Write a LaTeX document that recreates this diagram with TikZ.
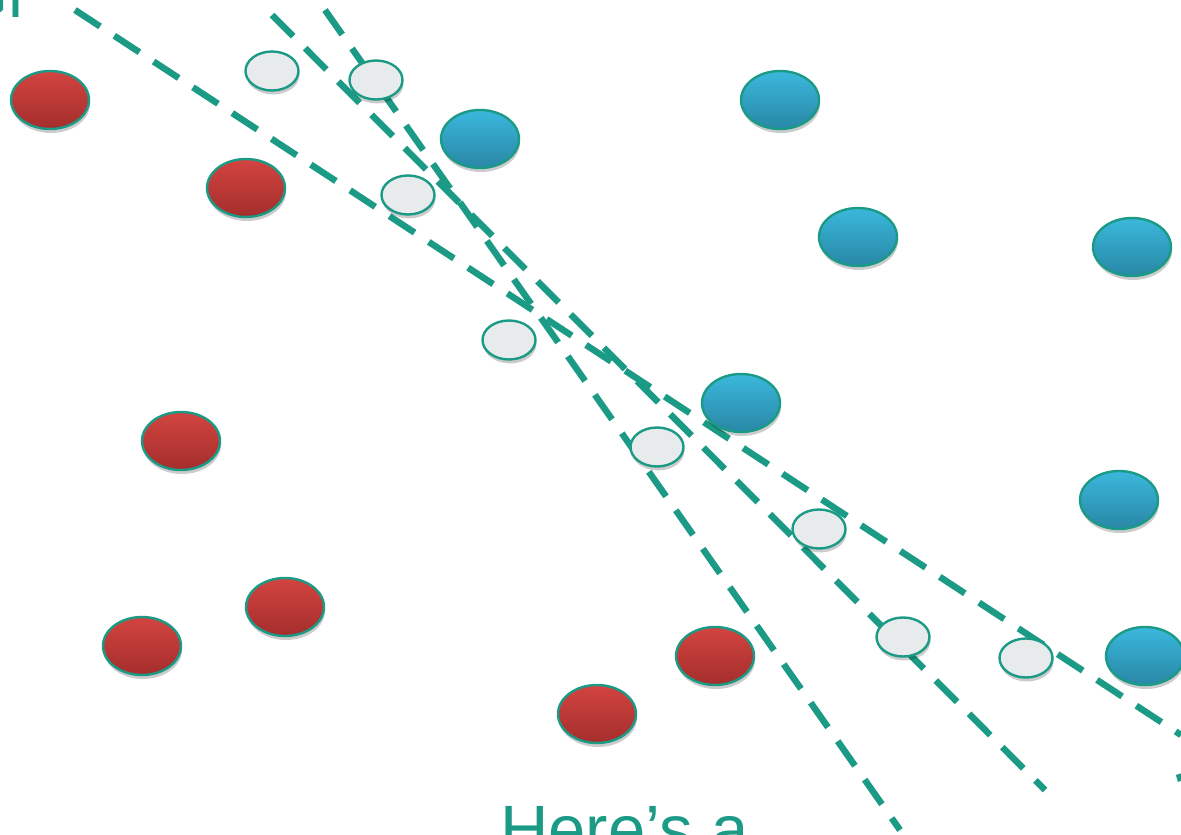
\documentclass[tikz,border=0pt]{standalone}
\usepackage{fontspec}
\setmainfont{Liberation Sans}
\usetikzlibrary{shadows,shapes.geometric}
\definecolor{teal1}{HTML}{1B9A86}
\definecolor{redtop}{HTML}{D24440}
\definecolor{redbot}{HTML}{A42E2C}
\definecolor{bluetop}{HTML}{3AB8DC}
\definecolor{bluebot}{HTML}{2987A6}
\definecolor{pale}{HTML}{E8EBEC}
\tikzset{
  pt/.style={ellipse, draw=teal1, line width=2.4pt, inner sep=0pt,
    drop shadow={shadow xshift=1pt, shadow yshift=-4pt, fill=black, opacity=0.2}},
  redpt/.style={pt, minimum width=78pt, minimum height=58pt, top color=redtop, bottom color=redbot},
  bluept/.style={pt, minimum width=78pt, minimum height=58pt, top color=bluetop, bottom color=bluebot},
  whitept/.style={pt, minimum width=53pt, minimum height=39pt, fill=pale},
  sep/.style={draw=teal1, line width=6.5pt, dash pattern=on 30pt off 17pt},
  lbl/.style={text=teal1, font=\fontsize{67}{70}\selectfont, inner sep=0pt}
}
\begin{document}
\begin{tikzpicture}[x=1pt,y=-1pt]
\useasboundingbox (0,0) rectangle (1181,835);
\clip (0,0) rectangle (1181,835);
% text fragments
\node[lbl, anchor=base east] (tl) at (24,17) {Gl};
\node[lbl, anchor=base west] (here) at (500,852) {Here’s a};
% line endpoints
\coordinate (a1) at (75,10);
\coordinate (a2) at (1181,735);
\coordinate (b1) at (272,15);
\coordinate (b2) at (1045,790);
\coordinate (c1) at (325,10);
\coordinate (c2) at (900,830);
\coordinate (d1) at (1179,774);
\coordinate (d2) at (1181,781);
\draw[sep] (a1) -- (a2);
\draw[sep] (b1) -- (b2);
\draw[sep] (c1) -- (c2);
\draw[draw=teal1, line width=6.5pt] (d1) -- (d2);
% red points
\node[redpt] (r1) at (50,100) {};
\node[redpt] (r2) at (246,188) {};
\node[redpt] (r3) at (181,441) {};
\node[redpt] (r4) at (285,607) {};
\node[redpt] (r5) at (142,646) {};
\node[redpt] (r6) at (597,714) {};
\node[redpt] (r7) at (715,656) {};
% blue points
\node[bluept] (b1n) at (480,139) {};
\node[bluept] (b2n) at (780,100) {};
\node[bluept] (b3n) at (858,237) {};
\node[bluept] (b4n) at (1132,247) {};
\node[bluept] (b5n) at (741,403) {};
\node[bluept] (b6n) at (1119,500) {};
\node[bluept] (b7n) at (1145,656) {};
% white points
\node[whitept] (w1) at (272,71) {};
\node[whitept] (w2) at (376,80) {};
\node[whitept] (w3) at (408,195) {};
\node[whitept] (w4) at (509,340) {};
\node[whitept] (w5) at (657,447) {};
\node[whitept] (w6) at (819,529) {};
\node[whitept] (w7) at (903,637) {};
\node[whitept] (w8) at (1026,658) {};
\end{tikzpicture}
\end{document}
